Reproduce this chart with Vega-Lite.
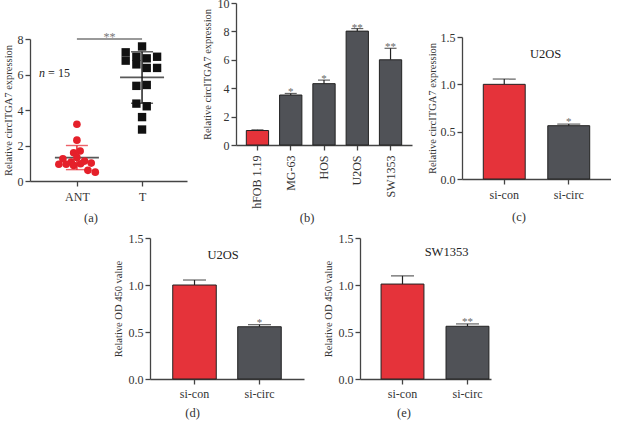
{
  "$schema": "https://vega.github.io/schema/vega-lite/v6.json",
  "padding": {"left": 2, "top": -3, "right": 0, "bottom": 0},
  "background": "white",
  "datasets": {
    "scatter": [
      {"group": "ANT", "pos": 1.0, "value": 3.2},
      {"group": "ANT", "pos": 1.0, "value": 2.3},
      {"group": "ANT", "pos": 1.05, "value": 1.69},
      {"group": "ANT", "pos": 0.95, "value": 1.59},
      {"group": "ANT", "pos": 1.0, "value": 1.33},
      {"group": "ANT", "pos": 0.785, "value": 1.25},
      {"group": "ANT", "pos": 0.913, "value": 1.07},
      {"group": "ANT", "pos": 1.118, "value": 1.12},
      {"group": "ANT", "pos": 1.22, "value": 1.01},
      {"group": "ANT", "pos": 0.723, "value": 0.94},
      {"group": "ANT", "pos": 0.836, "value": 0.94},
      {"group": "ANT", "pos": 0.95, "value": 0.88},
      {"group": "ANT", "pos": 1.056, "value": 0.97},
      {"group": "ANT", "pos": 1.169, "value": 0.6},
      {"group": "ANT", "pos": 1.282, "value": 0.5},
      {"group": "T", "pos": 2.0, "value": 7.58},
      {"group": "T", "pos": 1.749, "value": 7.25},
      {"group": "T", "pos": 2.231, "value": 7.0},
      {"group": "T", "pos": 1.913, "value": 7.0},
      {"group": "T", "pos": 1.749, "value": 6.78},
      {"group": "T", "pos": 2.072, "value": 6.91},
      {"group": "T", "pos": 1.913, "value": 6.57},
      {"group": "T", "pos": 2.072, "value": 6.37},
      {"group": "T", "pos": 2.231, "value": 6.37},
      {"group": "T", "pos": 1.913, "value": 5.36},
      {"group": "T", "pos": 2.072, "value": 5.41},
      {"group": "T", "pos": 1.913, "value": 4.36},
      {"group": "T", "pos": 2.072, "value": 4.21},
      {"group": "T", "pos": 2.0, "value": 3.6},
      {"group": "T", "pos": 2.0, "value": 2.9}
    ],
    "summaryA": [
      {"group": "ANT", "pos": 1, "mean": 1.32, "lo": 0.64, "hi": 2.0},
      {"group": "T", "pos": 2, "mean": 5.84, "lo": 4.38, "hi": 7.28}
    ],
    "sigA": [
      {"from": 1, "to": 2, "level": 8, "label": "**"}
    ],
    "cells": [
      {"cell": "hFOB 1.19", "group": "control", "value": 1.02, "err": 1.07, "sig": ""},
      {"cell": "MG-63", "group": "tumor", "value": 3.52, "err": 3.63, "sig": "*"},
      {"cell": "HOS", "group": "tumor", "value": 4.32, "err": 4.57, "sig": "*"},
      {"cell": "U2OS", "group": "tumor", "value": 8.02, "err": 8.2, "sig": "**"},
      {"cell": "SW1353", "group": "tumor", "value": 6.0, "err": 6.81, "sig": "**"}
    ],
    "panelC": [
      {"cond": "si-con", "group": "control", "value": 1.0, "err": 1.056, "sig": ""},
      {"cond": "si-circ", "group": "tumor", "value": 0.563, "err": 0.58, "sig": "*"}
    ],
    "panelD": [
      {"cond": "si-con", "group": "control", "value": 1.0, "err": 1.053, "sig": ""},
      {"cond": "si-circ", "group": "tumor", "value": 0.556, "err": 0.578, "sig": "*"}
    ],
    "panelE": [
      {"cond": "si-con", "group": "control", "value": 1.01, "err": 1.097, "sig": ""},
      {"cond": "si-circ", "group": "tumor", "value": 0.561, "err": 0.586, "sig": "**"}
    ]
  },
  "vconcat": [
    {
      "spacing": 14,
      "hconcat": [
        {
          "spacing": 0,
          "vconcat": [
            {"width": 1, "height": 28, "data": {"values": []}, "mark": "point"},
            {
              "width": 157,
              "height": 142,
              "title": {"text": "(a)", "orient": "bottom", "frame": "bounds", "offset": 9.5, "dx": -4},
              "layer": [
                {
                  "data": {"name": "sigA"},
                  "mark": {"type": "rule", "color": "#777", "strokeWidth": 1.3},
                  "encoding": {
                    "x": {"field": "from", "type": "quantitative", "title": null, "scale": {"domain": [0.28, 2.69], "nice": false, "zero": false},
                      "axis": {"values": [1, 2], "tickCount": 10, "labelExpr": "datum.value == 1 ? 'ANT' : 'T'", "labelFlush": false, "labelOverlap": false}},
                    "x2": {"field": "to"},
                    "y": {"field": "level", "type": "quantitative", "title": "Relative circITGA7 expression", "scale": {"domain": [0, 8], "nice": false},
                      "axis": {"values": [0, 2, 4, 6, 8], "tickCount": 10, "titlePadding": 4, "labelOverlap": false}}
                  }
                },
                {
                  "data": {"name": "sigA"},
                  "mark": {"type": "text", "baseline": "alphabetic", "dy": 2, "fontSize": 12, "color": "#777"},
                  "encoding": {
                    "x": {"datum": 1.5, "type": "quantitative", "title": null},
                    "y": {"field": "level", "type": "quantitative", "title": "Relative circITGA7 expression"},
                    "text": {"field": "label"}
                  }
                },
                {
                  "data": {"name": "summaryA"},
                  "mark": {"type": "tick", "orient": "horizontal", "color": "#111", "thickness": 1.8},
                  "encoding": {
                    "x": {"field": "pos", "type": "quantitative", "title": null},
                    "y": {"field": "mean", "type": "quantitative", "title": "Relative circITGA7 expression"},
                    "size": {"value": 44}
                  }
                },
                {
                  "data": {"name": "summaryA"},
                  "mark": {"type": "rule", "strokeWidth": 1.4},
                  "encoding": {
                    "x": {"field": "pos", "type": "quantitative", "title": null},
                    "y": {"field": "lo", "type": "quantitative", "title": "Relative circITGA7 expression"},
                    "y2": {"field": "hi"},
                    "color": {"field": "group", "type": "nominal", "scale": {"domain": ["ANT", "T", "control", "tumor"], "range": ["#e5202a", "#111111", "#e5333a", "#505257"]}, "legend": null}
                  }
                },
                {
                  "data": {"name": "summaryA"},
                  "mark": {"type": "tick", "orient": "horizontal", "thickness": 1.4},
                  "encoding": {
                    "x": {"field": "pos", "type": "quantitative", "title": null},
                    "y": {"field": "lo", "type": "quantitative", "title": "Relative circITGA7 expression"},
                    "size": {"value": 22},
                    "color": {"field": "group", "type": "nominal", "scale": {"domain": ["ANT", "T", "control", "tumor"], "range": ["#e5202a", "#111111", "#e5333a", "#505257"]}, "legend": null}
                  }
                },
                {
                  "data": {"name": "summaryA"},
                  "mark": {"type": "tick", "orient": "horizontal", "thickness": 1.4},
                  "encoding": {
                    "x": {"field": "pos", "type": "quantitative", "title": null},
                    "y": {"field": "hi", "type": "quantitative", "title": "Relative circITGA7 expression"},
                    "size": {"value": 22},
                    "color": {"field": "group", "type": "nominal", "scale": {"domain": ["ANT", "T", "control", "tumor"], "range": ["#e5202a", "#111111", "#e5333a", "#505257"]}, "legend": null}
                  }
                },
                {
                  "data": {"name": "scatter"},
                  "mark": {"type": "point", "filled": true, "opacity": 1},
                  "encoding": {
                    "x": {"field": "pos", "type": "quantitative", "title": null},
                    "y": {"field": "value", "type": "quantitative", "title": "Relative circITGA7 expression"},
                    "shape": {"field": "group", "type": "nominal", "scale": {"domain": ["ANT", "T"], "range": ["circle", "square"]}, "legend": null},
                    "color": {"field": "group", "type": "nominal", "scale": {"domain": ["ANT", "T", "control", "tumor"], "range": ["#e5202a", "#111111", "#e5333a", "#505257"]}, "legend": null},
                    "size": {"field": "group", "type": "nominal", "scale": {"domain": ["ANT", "T"], "range": [58, 70]}, "legend": null}
                  }
                },
                {
                  "data": {"values": [{"label": "n"}]},
                  "mark": {"type": "text", "align": "right", "dx": -32, "fontSize": 12, "fontStyle": "italic", "color": "#222"},
                  "encoding": {
                    "x": {"datum": 1, "type": "quantitative", "title": null},
                    "y": {"datum": 6.1, "type": "quantitative", "title": "Relative circITGA7 expression"},
                    "text": {"field": "label"}
                  }
                },
                {
                  "data": {"values": [{"label": "= 15"}]},
                  "mark": {"type": "text", "align": "right", "dx": -7, "fontSize": 12, "color": "#222"},
                  "encoding": {
                    "x": {"datum": 1, "type": "quantitative", "title": null},
                    "y": {"datum": 6.1, "type": "quantitative", "title": "Relative circITGA7 expression"},
                    "text": {"field": "label"}
                  }
                }
              ]
            }
          ]
        },
        {
          "width": 176,
          "height": 142,
          "title": {"text": "(b)", "orient": "bottom", "frame": "bounds", "offset": 4},
          "data": {"name": "cells"},
          "encoding": {
            "x": {"field": "cell", "type": "nominal", "sort": null, "title": null, "scale": {"paddingInner": 0.33, "paddingOuter": 0.31},
              "axis": {"labelAngle": -90, "labelOverlap": false}}
          },
          "layer": [
            {
              "mark": {"type": "bar", "stroke": "#222", "strokeWidth": 1},
              "encoding": {
                "y": {"field": "value", "type": "quantitative", "title": "Relative circITGA7 expression", "scale": {"domain": [0, 10], "nice": false},
                  "axis": {"values": [0, 2, 4, 6, 8, 10], "tickCount": 10, "titlePadding": 5, "labelOverlap": false}},
                "color": {"field": "group", "type": "nominal", "scale": {"domain": ["ANT", "T", "control", "tumor"], "range": ["#e5202a", "#111111", "#e5333a", "#505257"]}, "legend": null}
              }
            },
            {
              "mark": {"type": "rule", "color": "#222", "strokeWidth": 1.2},
              "encoding": {
                "y": {"field": "value", "type": "quantitative", "title": "Relative circITGA7 expression"},
                "y2": {"field": "err"}
              }
            },
            {
              "mark": {"type": "tick", "orient": "horizontal", "color": "#222", "thickness": 1.2},
              "encoding": {
                "y": {"field": "err", "type": "quantitative", "title": "Relative circITGA7 expression"},
                "size": {"value": 12}
              }
            },
            {
              "mark": {"type": "text", "baseline": "alphabetic", "dy": 2, "fontSize": 11, "color": "#666"},
              "encoding": {
                "y": {"field": "err", "type": "quantitative", "title": "Relative circITGA7 expression"},
                "text": {"field": "sig"}
              }
            }
          ]
        },
        {
          "spacing": 0,
          "vconcat": [
            {"width": 1, "height": 28, "data": {"values": []}, "mark": "point"},
            {
              "width": 149,
              "height": 142,
              "title": {"text": "(c)", "orient": "bottom", "frame": "bounds", "offset": 11},
              "encoding": {
                "x": {"field": "cond", "type": "nominal", "sort": null, "title": null, "scale": {"paddingInner": 0.35, "paddingOuter": 0.33},
                  "axis": {"labelAngle": 0}}
              },
              "layer": [
                {
                  "data": {"name": "panelC"},
                  "mark": {"type": "bar", "stroke": "#222", "strokeWidth": 1},
                  "encoding": {
                    "y": {"field": "value", "type": "quantitative", "title": "Relative circITGA7 expression", "scale": {"domain": [0, 1.5], "nice": false},
                      "axis": {"values": [0, 0.5, 1, 1.5], "tickCount": 10, "format": ".1f", "titlePadding": 3, "labelOverlap": false}},
                    "color": {"field": "group", "type": "nominal", "scale": {"domain": ["ANT", "T", "control", "tumor"], "range": ["#e5202a", "#111111", "#e5333a", "#505257"]}, "legend": null}
                  }
                },
                {
                  "data": {"name": "panelC"},
                  "mark": {"type": "rule", "color": "#222", "strokeWidth": 1.2},
                  "encoding": {
                    "y": {"field": "value", "type": "quantitative", "title": "Relative circITGA7 expression"},
                    "y2": {"field": "err"}
                  }
                },
                {
                  "data": {"name": "panelC"},
                  "mark": {"type": "tick", "orient": "horizontal", "color": "#222", "thickness": 1.2},
                  "encoding": {
                    "y": {"field": "err", "type": "quantitative", "title": "Relative circITGA7 expression"},
                    "size": {"value": 23}
                  }
                },
                {
                  "data": {"name": "panelC"},
                  "mark": {"type": "text", "baseline": "alphabetic", "dy": 1, "fontSize": 11, "color": "#666"},
                  "encoding": {
                    "y": {"field": "err", "type": "quantitative", "title": "Relative circITGA7 expression"},
                    "text": {"field": "sig"}
                  }
                },
                {
                  "data": {"values": [{"label": "U2OS"}]},
                  "mark": {"type": "text", "fontSize": 12.5, "color": "#222", "dx": 9},
                  "encoding": {
                    "x": null,
                    "y": {"datum": 1.32, "type": "quantitative", "title": "Relative circITGA7 expression"},
                    "text": {"field": "label"}
                  }
                }
              ]
            }
          ]
        }
      ]
    },
    {
      "spacing": 19,
      "hconcat": [
        {"width": 64, "height": 1, "data": {"values": []}, "mark": "point"},
        {
          "width": 154,
          "height": 141,
          "title": {"text": "(d)", "orient": "bottom", "frame": "bounds", "offset": 8, "dx": -16},
          "encoding": {
            "x": {"field": "cond", "type": "nominal", "sort": null, "title": null, "scale": {"paddingInner": 0.33, "paddingOuter": 0.35},
              "axis": {"labelAngle": 0, "labelPadding": 4}}
          },
          "layer": [
            {
              "data": {"name": "panelD"},
              "mark": {"type": "bar", "stroke": "#222", "strokeWidth": 1},
              "encoding": {
                "y": {"field": "value", "type": "quantitative", "title": "Relative OD 450 value", "scale": {"domain": [0, 1.5], "nice": false},
                  "axis": {"values": [0, 0.5, 1, 1.5], "tickCount": 10, "format": ".1f", "titlePadding": 5, "labelOverlap": false}},
                "color": {"field": "group", "type": "nominal", "scale": {"domain": ["ANT", "T", "control", "tumor"], "range": ["#e5202a", "#111111", "#e5333a", "#505257"]}, "legend": null}
              }
            },
            {
              "data": {"name": "panelD"},
              "mark": {"type": "rule", "color": "#222", "strokeWidth": 1.2},
              "encoding": {
                "y": {"field": "value", "type": "quantitative", "title": "Relative OD 450 value"},
                "y2": {"field": "err"}
              }
            },
            {
              "data": {"name": "panelD"},
              "mark": {"type": "tick", "orient": "horizontal", "color": "#222", "thickness": 1.2},
              "encoding": {
                "y": {"field": "err", "type": "quantitative", "title": "Relative OD 450 value"},
                "size": {"value": 23}
              }
            },
            {
              "data": {"name": "panelD"},
              "mark": {"type": "text", "baseline": "alphabetic", "dy": 1, "fontSize": 11, "color": "#666"},
              "encoding": {
                "y": {"field": "err", "type": "quantitative", "title": "Relative OD 450 value"},
                "text": {"field": "sig"}
              }
            },
            {
              "data": {"values": [{"label": "U2OS"}]},
              "mark": {"type": "text", "fontSize": 12.5, "color": "#222", "dx": -4},
              "encoding": {
                "x": null,
                "y": {"datum": 1.32, "type": "quantitative", "title": "Relative OD 450 value"},
                "text": {"field": "label"}
              }
            }
          ]
        },
        {
          "width": 131,
          "height": 141,
          "title": {"text": "(e)", "orient": "bottom", "frame": "bounds", "offset": 8, "dx": -3},
          "encoding": {
            "x": {"field": "cond", "type": "nominal", "sort": null, "title": null, "scale": {"paddingInner": 0.34, "paddingOuter": 0.178, "align": 0.91},
              "axis": {"labelAngle": 0, "labelPadding": 4}}
          },
          "layer": [
            {
              "data": {"name": "panelE"},
              "mark": {"type": "bar", "stroke": "#222", "strokeWidth": 1},
              "encoding": {
                "y": {"field": "value", "type": "quantitative", "title": "Relative OD 450 value", "scale": {"domain": [0, 1.5], "nice": false},
                  "axis": {"values": [0, 0.5, 1, 1.5], "tickCount": 10, "format": ".1f", "titlePadding": 5, "labelOverlap": false}},
                "color": {"field": "group", "type": "nominal", "scale": {"domain": ["ANT", "T", "control", "tumor"], "range": ["#e5202a", "#111111", "#e5333a", "#505257"]}, "legend": null}
              }
            },
            {
              "data": {"name": "panelE"},
              "mark": {"type": "rule", "color": "#222", "strokeWidth": 1.2},
              "encoding": {
                "y": {"field": "value", "type": "quantitative", "title": "Relative OD 450 value"},
                "y2": {"field": "err"}
              }
            },
            {
              "data": {"name": "panelE"},
              "mark": {"type": "tick", "orient": "horizontal", "color": "#222", "thickness": 1.2},
              "encoding": {
                "y": {"field": "err", "type": "quantitative", "title": "Relative OD 450 value"},
                "size": {"value": 23}
              }
            },
            {
              "data": {"name": "panelE"},
              "mark": {"type": "text", "baseline": "alphabetic", "dy": 1, "fontSize": 11, "color": "#666"},
              "encoding": {
                "y": {"field": "err", "type": "quantitative", "title": "Relative OD 450 value"},
                "text": {"field": "sig"}
              }
            },
            {
              "data": {"values": [{"label": "SW1353"}]},
              "mark": {"type": "text", "fontSize": 12.5, "color": "#222", "dx": 21},
              "encoding": {
                "x": null,
                "y": {"datum": 1.35, "type": "quantitative", "title": "Relative OD 450 value"},
                "text": {"field": "label"}
              }
            }
          ]
        }
      ]
    }
  ],
  "spacing": 7,
  "config": {
    "font": "Liberation Serif",
    "view": {"stroke": null},
    "axis": {
      "grid": false,
      "domainColor": "#444",
      "tickColor": "#444",
      "labelColor": "#333",
      "titleColor": "#333",
      "labelFont": "Liberation Serif",
      "titleFont": "Liberation Serif",
      "labelFontSize": 12,
      "titleFontSize": 10.5,
      "titleFontWeight": "normal",
      "tickSize": 5,
      "domainWidth": 1.3,
      "tickWidth": 1.3,
      "labelPadding": 2,
      "labelOverlap": false
    },
    "axisX": {"labelPadding": 5},
    "title": {"font": "Liberation Serif", "fontSize": 12.5, "fontWeight": "normal", "color": "#333"}
  }
}
